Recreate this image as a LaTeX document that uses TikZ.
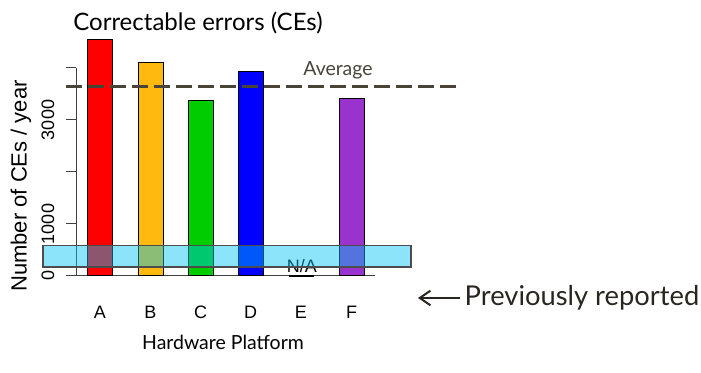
\documentclass[tikz,border=0pt]{standalone}
\usepackage{fontspec}
\setmainfont{Lato}
\newfontfamily\arialfont{Liberation Sans}
\usetikzlibrary{arrows.meta, positioning}

\definecolor{barA}{RGB}{255,0,0}
\definecolor{barB}{RGB}{255,185,15}
\definecolor{barC}{RGB}{0,205,0}
\definecolor{barD}{RGB}{0,0,255}
\definecolor{barF}{RGB}{154,50,205}
\definecolor{avgline}{RGB}{72,68,56}
\definecolor{prevfill}{RGB}{0,195,245}
\definecolor{note}{RGB}{40,38,30}

\begin{document}
\begin{tikzpicture}[x=0.75pt, y=-0.75pt,
    bar/.style={draw=black, line width=0.75pt},
    axis/.style={draw=black!75, line width=0.75pt},
    ticklab/.style={font=\arialfont\fontsize{13.5}{15}\selectfont, rotate=90},
    catlab/.style={font=\arialfont\fontsize{13.5}{15}\selectfont},
    avg/.style={draw=avgline, line width=1.8pt, dash pattern=on 12pt off 4.5pt}]

    \useasboundingbox (0,0) rectangle (701,373);

    % Titre et axes
    \node[font=\fontsize{18}{20}\selectfont] (title) at (198,23) {Correctable errors (CEs)};
    \draw[axis] (76,68) -- (76,276);
    \foreach \t in {68,120,172,224,276}
        \draw[axis] (66,\t) -- (76,\t);
    \draw[axis] (66,276) -- (375,276);
    \node[ticklab] (t0) at (48,276) {0};
    \node[ticklab] (t1000) at (48,224) {1000};
    \node[ticklab] (t3000) at (48,120) {3000};
    \node[font=\arialfont\fontsize{16.5}{18}\selectfont, rotate=90] (ylab) at (21,186) {Number of CEs / year};

    % Barres
    \foreach \cx/\h/\col in {100/40/barA, 150.5/63/barB, 200.5/101/barC, 250.5/72/barD, 351.5/99/barF}
        \draw[bar, fill=\col] (\cx-12.5,276) rectangle (\cx+12.5,\h);
    \draw[bar, line width=1.5pt] (289,276) -- (314,276);
    \node[font=\arialfont\fontsize{13.5}{15}\selectfont] (na) at (302,266) {N/A};

    % Etiquettes des plateformes
    \foreach \cx/\lab in {100/A, 150.5/B, 200.5/C, 250.5/D, 301/E, 351.5/F}
        \node[catlab] (cat\lab) at (\cx,312) {\lab};
    \node[font=\fontsize{14.6}{16}\selectfont] (xlab) at (223,342) {Hardware Platform};

    % Moyenne
    \draw[avg] (66,86.5) -- (457,86.5);
    \node[font=\fontsize{14.6}{16}\selectfont, text=avgline] (avgtxt) at (338,70) {Average};

    % Bande "previously reported"
    \draw[draw=black!70, line width=0.8pt, fill=prevfill, fill opacity=0.45] (43,245.5) rectangle (411,267);
    \node[font=\fontsize{20.5}{22}\selectfont, text=note, anchor=west] (prev) at (460,298) {Previously reported};
    \coordinate (tip) at (418,298);
    \draw[-{Straight Barb[length=8pt, width=11pt]}, draw=note, line width=1.5pt] (prev.west) -- (tip);

\end{tikzpicture}
\end{document}
